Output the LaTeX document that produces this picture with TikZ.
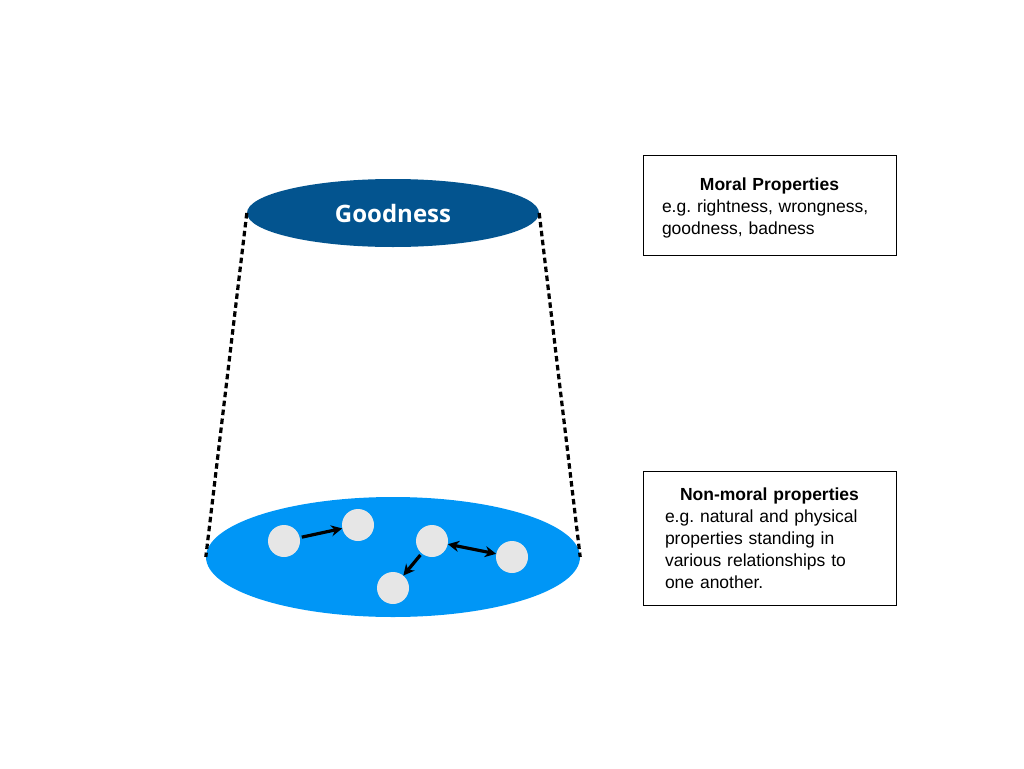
\documentclass[tikz,border=0pt]{standalone}
\usepackage{fontspec}
\setmainfont{Liberation Sans}
\newfontfamily\goodfont{Open Sans}
\usetikzlibrary{shapes.geometric,arrows.meta}
\definecolor{moralblue}{HTML}{03548F}
\definecolor{baseblue}{HTML}{0096F6}
\definecolor{propgray}{HTML}{E6E6E6}
\frenchspacing
\begin{document}
\begin{tikzpicture}[x=1pt, y=-1pt,
    prop/.style={circle, fill=propgray, minimum size=32pt, inner sep=0pt},
    link/.style={line width=3.2pt, -{Stealth[length=11pt,width=11pt]}},
    tie/.style={line width=3.2pt, dash pattern=on 5.5pt off 3.5pt},
    infobox/.style={draw, line width=0.9pt, minimum width=253pt, text width=#1,
        font=\fontsize{17.5}{22}\selectfont}]
    \useasboundingbox (0,0) rectangle (1024,768);

    \node[ellipse, fill=moralblue, minimum width=292pt, minimum height=68pt] (good) at (393,213)
        {\goodfont\bfseries\fontsize{24}{28}\selectfont\color{white}Goodness};
    \node[ellipse, fill=baseblue, minimum width=374pt, minimum height=120pt] (base) at (393,557) {};

    \draw[tie] (good.west) -- (base.west);
    \draw[tie] (good.east) -- (base.east);

    \node[prop] (p1) at (284,541) {};
    \node[prop] (p2) at (358,525) {};
    \node[prop] (p3) at (432,541) {};
    \node[prop] (p4) at (512,557) {};
    \node[prop] (p5) at (393,588) {};

    \draw[link, shorten <=2pt] (p1) -- (p2);
    \draw[link, {Stealth[length=11pt,width=11pt]}-{Stealth[length=11pt,width=11pt]}] (p3) -- (p4);
    \draw[link, shorten <=2pt] (p3) -- (p5);

    \node[infobox=215pt, inner xsep=19pt, minimum height=100pt] (moral) at (769.5,205)
        {{\centering\bfseries\rule{0pt}{19pt}Moral Properties\par}
         \raggedright\mbox{e.g. rightness, wrongness,}\\
         \mbox{goodness, badness}};
    \node[infobox=209pt, inner xsep=22pt, minimum height=134pt] (nonmoral) at (769.5,538)
        {{\centering\bfseries Non-moral properties\par}
         \raggedright\mbox{e.g. natural and physical}\\
         \mbox{properties standing in}\\
         \mbox{various relationships to}\\
         \mbox{one another.}};
\end{tikzpicture}
\end{document}
